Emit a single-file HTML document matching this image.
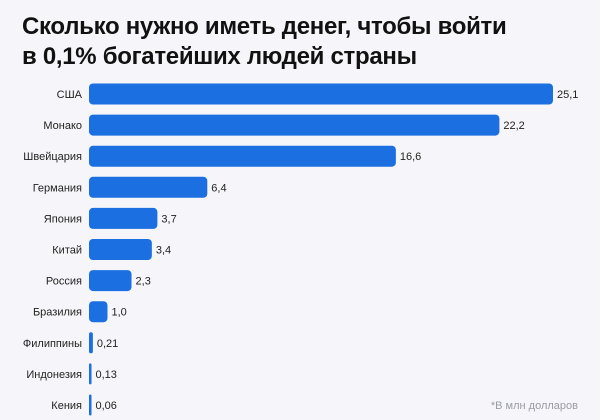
<!DOCTYPE html>
<html><head><meta charset="utf-8"><style>
body{margin:0;width:600px;height:420px;background:#f6f6fa;font-family:"Liberation Sans","DejaVu Sans",sans-serif;overflow:hidden}
h1{position:absolute;left:22px;top:12px;margin:0;font-size:24px;line-height:30px;font-weight:bold;color:#111;letter-spacing:-0.3px}
svg{position:absolute;left:0;top:0}
</style></head><body>
<h1>Сколько нужно иметь денег, чтобы войти<br>в 0,1% богатейших людей страны</h1>
<svg id="c" width="600" height="420">
<text x="578" y="409" text-anchor="end" font-size="11" fill="#9a9aa3">*В млн долларов</text>
</svg>
<script>
const categories=["США","Монако","Швейцария","Германия","Япония","Китай","Россия","Бразилия","Филиппины","Индонезия","Кения"];
const values=[25.1,22.2,16.6,6.4,3.7,3.4,2.3,1.0,0.21,0.13,0.06];
const valueLabels=["25,1","22,2","16,6","6,4","3,7","3,4","2,3","1,0","0,21","0,13","0,06"];
const svg=document.getElementById('c');
const NS="http://www.w3.org/2000/svg";
const x0=89, pxPer=(553-89)/25.1;
function xs(v){return Math.max(v*pxPer,2.5);}
function yc(i){return 94+i*31.1;}
categories.forEach((c,i)=>{
  const y=yc(i), w=xs(values[i]);
  const r=document.createElementNS(NS,'rect');
  
  
  r.setAttribute('x',x0);r.setAttribute('y',y-10.5);r.setAttribute('width',w);r.setAttribute('height',21);
  r.setAttribute('rx',Math.min(4,w/2));r.setAttribute('fill','#1b6fe0');
  svg.appendChild(r);
  const t=document.createElementNS(NS,'text');
  
  
  t.setAttribute('x',82);t.setAttribute('y',y+4);t.setAttribute('text-anchor','end');
  t.setAttribute('font-size','11');t.setAttribute('fill','#222');t.textContent=c;
  svg.appendChild(t);
  const v=document.createElementNS(NS,'text');
  
  
  v.setAttribute('x',x0+w+4);v.setAttribute('y',y+4);
  v.setAttribute('font-size','11');v.setAttribute('fill','#222');v.textContent=valueLabels[i];
  svg.appendChild(v);
});
</script>
</body></html>
